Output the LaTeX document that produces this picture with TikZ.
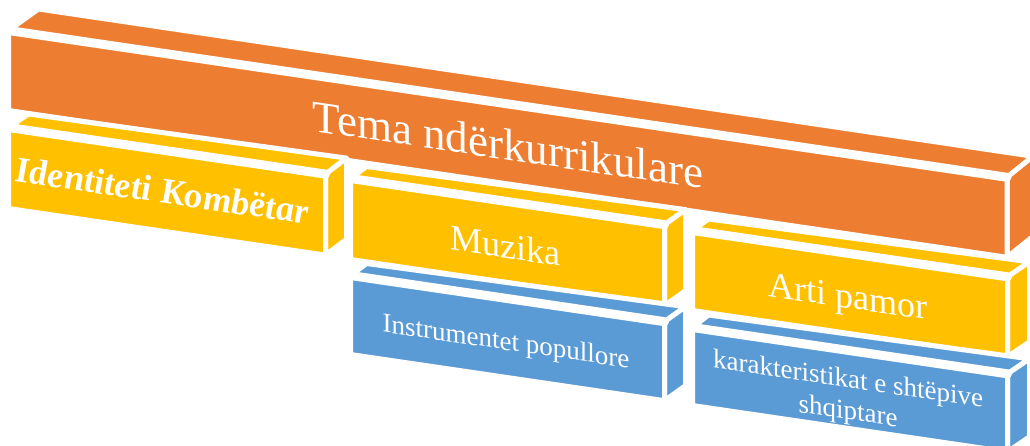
\documentclass[tikz,border=0pt]{standalone}
\usepackage{fontspec}
\setmainfont{Liberation Serif}
\usetikzlibrary{calc}
\definecolor{orng}{HTML}{ED7D31}
\definecolor{goldf}{HTML}{FFC000}
\definecolor{bluef}{HTML}{5B9BD5}
\newcommand\slopeval{0.147}
\tikzset{
  boxface/.style={fill=#1, draw=white, line width=5pt, line join=round},
  creaseline/.style={draw=white, line width=9pt, line cap=round},
  lbl/.style={text=white, transform shape, yslant=-0.147, inner sep=0pt},
}
% #1 colour, #2 x, #3 y, #4 w, #5 h, #6 dLx, #7 dLy, #8 dRx, #9 dRy
\newcommand\cubebox[9]{%
  \coordinate (TL) at (#2,#3);
  \coordinate (TR) at ({#2+#4},{#3+\slopeval*#4});
  \coordinate (BR) at ({#2+#4},{#3+\slopeval*#4+#5});
  \coordinate (BL) at (#2,{#3+#5});
  \filldraw[boxface=#1] (TL) -- (TR) -- ($(TR)+(#8,#9)$) -- ($(TL)+(#6,#7)$) -- cycle;
  \filldraw[boxface=#1] (TR) -- (BR) -- ($(BR)+(#8,#9)$) -- ($(TR)+(#8,#9)$) -- cycle;
  \filldraw[boxface=#1] (TL) -- (TR) -- (BR) -- (BL) -- cycle;
  \path[creaseline] (TL) -- (TR);
}
\begin{document}
\begin{tikzpicture}[x=1pt,y=-1pt]
\useasboundingbox (0,0) rectangle (1030,445);
\clip (0,0) rectangle (1030,445);
% boxes
\cubebox{orng}{8.5}{30.5}{998.5}{80}{30}{-21.5}{26}{-21}
\cubebox{goldf}{8.5}{127.5}{317}{81}{20}{-13.5}{21}{-16}
\cubebox{goldf}{350.5}{178.5}{314}{81}{16}{-12}{21}{-15}
\cubebox{goldf}{692.5}{230.5}{315}{80}{16}{-11.5}{22}{-15}
\cubebox{bluef}{350.5}{275.5}{314}{79}{16}{-12}{21}{-15}
\cubebox{bluef}{692.5}{327.5}{315}{78}{16}{-12.5}{22}{-15}
% texts
\coordinate (pTema) at (508,160);
\coordinate (pId) at (162,203);
\coordinate (pMuz) at (505,258);
\coordinate (pArt) at (848,308);
\coordinate (pIns) at (506,350);
\coordinate (pKar) at (848,397);
\node[lbl, anchor=base, font=\fontsize{45}{50}\selectfont] (tema) at (pTema) {Tema ndërkurrikulare};
\node[lbl, anchor=base, font=\fontsize{36.5}{40}\selectfont\bfseries\itshape] (ident) at (pId) {Identiteti Kombëtar};
\node[lbl, anchor=base, font=\fontsize{36}{40}\selectfont] (muz) at (pMuz) {Muzika};
\node[lbl, anchor=base, font=\fontsize{36}{40}\selectfont] (art) at (pArt) {Arti pamor};
\node[lbl, anchor=base, font=\fontsize{27}{30}\selectfont] (ins) at (pIns) {Instrumentet popullore};
\node[lbl, anchor=center, align=center, font=\fontsize{27}{32}\selectfont] (kar) at (pKar) {karakteristikat e shtëpive\\shqiptare};
\end{tikzpicture}
\end{document}
